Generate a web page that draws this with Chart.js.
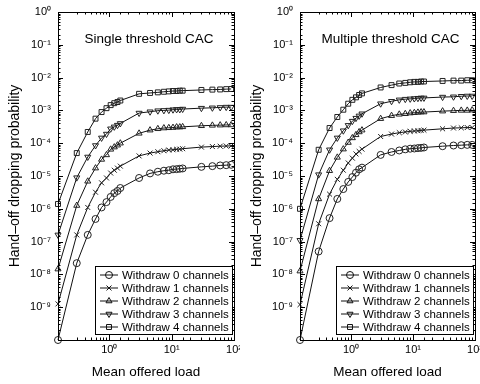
<!DOCTYPE html>
<html>
<head>
<meta charset="utf-8">
<script src="https://cdn.jsdelivr.net/npm/chart.js@4/dist/chart.umd.min.js"></script>
<style>
  html, body { margin: 0; padding: 0; background: #fff; }
  .panel { position: absolute; top: 0; width: 240px; height: 384px; }
</style>
</head>
<body>
<div class="panel" style="left:0"><canvas id="single_chart"></canvas></div>
<div class="panel" style="left:240px"><canvas id="multi_chart"></canvas></div>
<script>
"use strict";
/* data */
var loads = [0.15, 0.3, 0.45, 0.6, 0.75, 0.9, 1.05, 1.2, 1.35, 1.5, 3, 4.5, 6, 7.5, 9, 10.5, 12, 13.5, 15, 30, 45, 60, 75, 90];
var seriesNames = ["Withdraw 0 channels", "Withdraw 1 channels", "Withdraw 2 channels", "Withdraw 3 channels", "Withdraw 4 channels"];
var yTickValues = [1, 1e-1, 1e-2, 1e-3, 1e-4, 1e-5, 1e-6, 1e-7, 1e-8, 1e-9];
var xTickValues = [1, 10, 100];

// single threshold CAC
var singleW0 = [1e-10, 2.2e-8, 1.6e-7, 4.9e-7, 1.1e-6, 1.6e-6, 2.3e-6, 3.0e-6, 3.5e-6, 4.3e-6, 8.7e-6, 1.2e-5, 1.35e-5, 1.45e-5, 1.5e-5, 1.6e-5, 1.62e-5, 1.66e-5, 1.7e-5, 1.9e-5, 2.0e-5, 2.1e-5, 2.14e-5, 2.2e-5];
var singleW1 = [1.26e-9, 1.6e-7, 1.1e-6, 3.2e-6, 6.2e-6, 8.7e-6, 1.23e-5, 1.5e-5, 1.74e-5, 2.0e-5, 4.1e-5, 5.0e-5, 5.5e-5, 5.9e-5, 6.2e-5, 6.3e-5, 6.5e-5, 6.6e-5, 6.8e-5, 7.6e-5, 7.9e-5, 8.1e-5, 8.2e-5, 8.3e-5];
var singleW2 = [1.45e-8, 1.26e-6, 6.9e-6, 1.74e-5, 3.2e-5, 4.4e-5, 6.5e-5, 7.6e-5, 8.7e-5, 1.0e-4, 2.0e-4, 2.5e-4, 2.75e-4, 2.9e-4, 2.95e-4, 3.0e-4, 3.1e-4, 3.1e-4, 3.15e-4, 3.4e-4, 3.5e-4, 3.55e-4, 3.6e-4, 3.6e-4];
var singleW3 = [1.6e-7, 8.9e-6, 3.8e-5, 8.5e-5, 1.45e-4, 1.9e-4, 2.75e-4, 3.15e-4, 3.55e-4, 4.0e-4, 8.3e-4, 9.1e-4, 9.8e-4, 1.0e-3, 1.02e-3, 1.05e-3, 1.07e-3, 1.07e-3, 1.1e-3, 1.17e-3, 1.2e-3, 1.23e-3, 1.26e-3, 1.26e-3];
var singleW4 = [1.4e-6, 5.0e-5, 2.2e-4, 5.6e-4, 8.9e-4, 1.17e-3, 1.45e-3, 1.66e-3, 1.8e-3, 2.0e-3, 3.2e-3, 3.4e-3, 3.55e-3, 3.7e-3, 3.8e-3, 3.9e-3, 3.9e-3, 4.0e-3, 4.0e-3, 4.2e-3, 4.3e-3, 4.35e-3, 4.45e-3, 4.5e-3];

// multiple threshold CAC
var multiW0 = [1e-10, 5.0e-8, 5.2e-7, 2.0e-6, 4.0e-6, 6.6e-6, 9.3e-6, 1.26e-5, 1.6e-5, 1.8e-5, 4.4e-5, 5.4e-5, 6.0e-5, 6.5e-5, 6.8e-5, 6.9e-5, 7.1e-5, 7.2e-5, 7.4e-5, 8.1e-5, 8.5e-5, 8.7e-5, 8.9e-5, 8.9e-5];
var multiW1 = [1.2e-9, 3.5e-7, 2.8e-6, 7.9e-6, 1.5e-5, 2.5e-5, 3.5e-5, 4.7e-5, 5.6e-5, 6.6e-5, 1.6e-4, 1.9e-4, 2.1e-4, 2.2e-4, 2.3e-4, 2.35e-4, 2.4e-4, 2.45e-4, 2.5e-4, 2.75e-4, 2.9e-4, 2.95e-4, 3.0e-4, 3.0e-4];
var multiW2 = [1.26e-8, 2.0e-6, 1.45e-5, 3.7e-5, 6.6e-5, 1.05e-4, 1.45e-4, 1.8e-4, 2.2e-4, 2.5e-4, 5.6e-4, 6.9e-4, 7.6e-4, 7.9e-4, 8.3e-4, 8.5e-4, 8.7e-4, 8.9e-4, 8.9e-4, 9.5e-4, 9.8e-4, 1.0e-3, 1.0e-3, 1.02e-3];
var multiW3 = [1.1e-7, 1.1e-5, 6.3e-5, 1.45e-4, 2.4e-4, 3.5e-4, 4.7e-4, 5.8e-4, 6.8e-4, 7.9e-4, 1.6e-3, 1.9e-3, 2.1e-3, 2.2e-3, 2.25e-3, 2.3e-3, 2.35e-3, 2.4e-3, 2.4e-3, 2.55e-3, 2.6e-3, 2.7e-3, 2.75e-3, 2.75e-3];
var multiW4 = [1.0e-6, 6.3e-5, 2.9e-4, 6.3e-4, 1.05e-3, 1.6e-3, 2.1e-3, 2.5e-3, 2.95e-3, 3.3e-3, 5.0e-3, 5.9e-3, 6.6e-3, 6.9e-3, 7.2e-3, 7.4e-3, 7.4e-3, 7.6e-3, 7.6e-3, 7.9e-3, 8.1e-3, 8.1e-3, 8.3e-3, 8.3e-3];

/* styles */
var markerStyles = ["circle", "crossRot", "triangle", "triangle", "rect"];
var markerRotations = [0, 0, 0, 180, 0];
var lineColor = "#111";

Chart.defaults.font.family = "'Liberation Sans', Arial, sans-serif";
Chart.defaults.color = "#000";

var SUP = { "0": "\u2070", "1": "\u00B9", "2": "\u00B2", "3": "\u00B3", "4": "\u2074", "5": "\u2075", "6": "\u2076", "7": "\u2077", "8": "\u2078", "9": "\u2079", "-": "\u207B" };
function powLabel(v) {
  var e = Math.round(Math.log10(v));
  return "10" + String(e).split("").map(function (c) { return SUP[c]; }).join("");
}
function hasValue(list, v) {
  return list.some(function (t) { return Math.abs(Math.log10(t) - Math.log10(v)) < 1e-6; });
}
function isPow(v) {
  var l = Math.log10(v);
  return Math.abs(l - Math.round(l)) < 1e-6;
}

// frame, inward ticks, title and legend drawn inside the plot box
function boxPlugin(title) {
  return {
    id: "box",
    afterDraw: function (chart) {
      var ctx = chart.ctx;
      var a = chart.chartArea;
      var xs = chart.scales.x, ys = chart.scales.y;
      ctx.save();
      ctx.strokeStyle = "#000";
      ctx.lineWidth = 1;
      ctx.strokeRect(Math.round(a.left) + 0.5, Math.round(a.top) + 0.5, Math.round(a.right - a.left), Math.round(a.bottom - a.top));
      ctx.beginPath();
      xs.ticks.forEach(function (t) {
        var px = Math.round(xs.getPixelForValue(t.value)) + 0.5;
        var len = isPow(t.value) ? 5 : 2.5;
        ctx.moveTo(px, a.bottom); ctx.lineTo(px, a.bottom - len);
        ctx.moveTo(px, a.top); ctx.lineTo(px, a.top + len);
      });
      ys.ticks.forEach(function (t) {
        var py = Math.round(ys.getPixelForValue(t.value)) + 0.5;
        var len = isPow(t.value) ? 5 : 2.5;
        ctx.moveTo(a.left, py); ctx.lineTo(a.left + len, py);
        ctx.moveTo(a.right, py); ctx.lineTo(a.right - len, py);
      });
      ctx.stroke();

      // title
      ctx.fillStyle = "#000";
      ctx.font = "13.5px 'Liberation Sans', Arial, sans-serif";
      ctx.textAlign = "center";
      ctx.textBaseline = "middle";
      ctx.fillText(title, (a.left + a.right) / 2 + 3, a.top + 27);

      // legend
      var right = a.right - 2, bottom = a.bottom - 6;
      var left = right - 137, top = bottom - 68;
      ctx.fillStyle = "#fff";
      ctx.fillRect(left, top, right - left, bottom - top);
      ctx.strokeRect(Math.round(left) + 0.5, Math.round(top) + 0.5, Math.round(right - left), Math.round(bottom - top));
      ctx.font = "11.5px 'Liberation Sans', Arial, sans-serif";
      ctx.textAlign = "left";
      chart.data.datasets.forEach(function (ds, i) {
        var y = top + 9 + i * 13;
        ctx.strokeStyle = lineColor;
        ctx.beginPath();
        ctx.moveTo(left + 5, y); ctx.lineTo(left + 23, y);
        ctx.stroke();
        ctx.fillStyle = "rgba(0,0,0,0)";
        Chart.helpers.drawPoint(ctx, { pointStyle: ds.pointStyle, rotation: ds.pointRotation, radius: 3.5, borderWidth: 1 }, left + 14, y);
        ctx.fillStyle = "#000";
        ctx.fillText(ds.label, left + 27, y + 0.5);
      });
      ctx.restore();
    },
  };
}

function makeChart(id, title, series, yWidth, padRight, titlePad) {
  var datasets = series.map(function (vals, i) {
    return {
      label: seriesNames[i],
      data: loads.map(function (x, j) { return { x: x, y: vals[j] }; }),
      borderColor: lineColor,
      borderWidth: 1,
      backgroundColor: "rgba(0,0,0,0)",
      pointStyle: markerStyles[i],
      pointRotation: markerRotations[i],
      pointRadius: 3.5,
      pointBorderWidth: 1,
      pointBorderColor: "#222",
      pointBackgroundColor: "rgba(0,0,0,0)",
      tension: 0,
      clip: false,
    };
  });
  return new Chart(id, {
    type: "line",
    data: { datasets: datasets },
    options: {
      animation: false,
      responsive: true,
      maintainAspectRatio: false,
      layout: { padding: { top: 12, right: padRight, left: 0, bottom: 0 } },
      plugins: { legend: { display: false }, tooltip: { enabled: false } },
      scales: {
        x: {
          type: "logarithmic",
          min: 0.15,
          max: 100,
          grid: { display: false, drawTicks: false },
          border: { display: false },
          ticks: {
            autoSkip: false,
            maxRotation: 0,
            padding: 3,
            font: { size: 11 },
            callback: function (value) {
              return hasValue(xTickValues, value) ? powLabel(value) : "";
            },
          },
          title: { display: true, text: "Mean offered load", font: { size: 13.5 }, padding: { top: 0, bottom: 4 } },
          afterFit: function (scale) {
            scale.height = 44;
            scale.paddingLeft = 0;
            scale.paddingRight = 0;
          },
        },
        y: {
          type: "logarithmic",
          min: 1e-10,
          max: 1,
          grid: { display: false, drawTicks: false },
          border: { display: false },
          ticks: {
            autoSkip: false,
            padding: 7,
            font: { size: 11 },
            callback: function (value) {
              return hasValue(yTickValues, value) ? powLabel(value) : "";
            },
          },
          title: { display: true, text: "Hand\u2013off dropping probability", font: { size: 14 }, padding: { top: titlePad, bottom: 0 } },
          afterFit: function (scale) {
            scale.width = yWidth;
            scale.paddingTop = 0;
            scale.paddingBottom = 0;
          },
        },
      },
    },
    plugins: [boxPlugin(title)],
  });
}

makeChart("single_chart", "Single threshold CAC", [singleW0, singleW1, singleW2, singleW3, singleW4], 58, 6, 7);
makeChart("multi_chart", "Multiple threshold CAC", [multiW0, multiW1, multiW2, multiW3, multiW4], 60, 5, 9);
</script>
</body>
</html>
